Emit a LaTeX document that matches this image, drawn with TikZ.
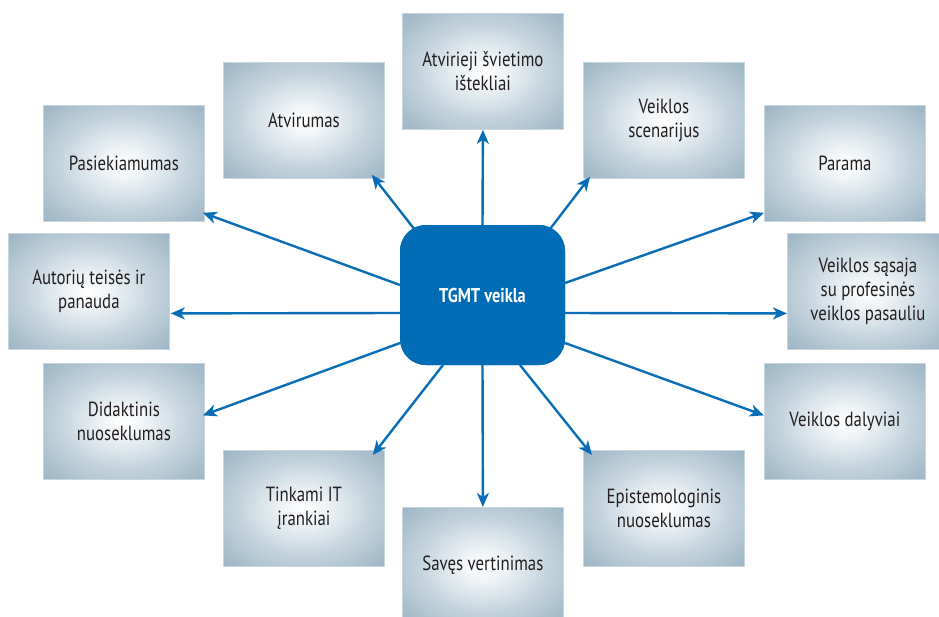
\documentclass[tikz,border=0pt]{standalone}
\usepackage{fontspec}
\setmainfont{PT Sans}[FakeStretch=0.82]
\usetikzlibrary{arrows.meta,calc}

\definecolor{hubblue}{HTML}{006CB6}
\definecolor{linkblue}{HTML}{0A6EB6}
\definecolor{boxline}{HTML}{C8D6DE}
\definecolor{boxtext}{HTML}{231F20}
\definecolor{glowB}{HTML}{EEF3F6}
\definecolor{glowC}{HTML}{C4D4DE}
\definecolor{glowD}{HTML}{9CB5C5}
\definecolor{glowE}{HTML}{89A5B8}

% soft white centre fading to steel blue at the edges
\pgfdeclareradialshading{glow}{\pgfpoint{0bp}{0bp}}{%
  color(0bp)=(white); color(7bp)=(glowB); color(20bp)=(glowC);
  color(35bp)=(glowD); color(50bp)=(glowE)}

\tikzset{
  topic/.style={rectangle, draw=boxline, line width=0.8pt, shading=glow,
    minimum width=161pt, minimum height=116pt, anchor=north west,
    align=center, text=boxtext, inner sep=2pt,
    font=\fontsize{20.5}{24}\selectfont},
  hub/.style={rectangle, rounded corners=26pt, fill=hubblue, draw=none,
    minimum width=165pt, minimum height=140pt, text=white,
    font=\fontsize{20}{24}\selectfont\bfseries},
  link/.style={draw=linkblue, line width=2.4pt,
    -{Stealth[length=14pt, width=12pt, inset=4pt]}},
}

\begin{document}
\begin{tikzpicture}[x=1pt, y=-1pt]
\clip (0,0) rectangle (939,616);
\fill[white] (0,0) rectangle (939,616);

% surrounding topics
\node[topic] (atv) at (402,13)  {Atvirieji švietimo\\ištekliai};
\node[topic] (avr) at (223,62)  {Atvirumas};
\node[topic] (scn) at (583,62)  {Veiklos\\scenarijus};
\node[topic] (pas) at (43,105)  {Pasiekiamumas};
\node[topic] (par) at (764,105) {Parama};
\node[topic] (aut) at (8,233)   {Autorių teisės ir\\panauda};
\node[topic] (ssj) at (787,233) {Veiklos sąsaja\\su profesinės\\veiklos pasauliu};
\node[topic] (did) at (43,363)  {Didaktinis\\nuoseklumas};
\node[topic] (dal) at (764,363) {Veiklos dalyviai};
\node[topic] (tin) at (223,450) {Tinkami IT\\įrankiai};
\node[topic] (epi) at (583,450) {Epistemologinis\\nuoseklumas};
\node[topic] (sav) at (402,507) {Savęs vertinimas};

% central activity
\node[hub] (c) at (482.5,295) {TGMT veikla};

% spokes from the hub
\draw[link] ($(c.center)+(0,-70)$)     -- (atv.south);
\draw[link] ($(c.center)+(-67.5,-65)$) -- ($(avr.south east)+(-13,-4)$);
\draw[link] ($(c.center)+(67.5,-66)$)  -- ($(scn.south west)+(7,-2)$);
\draw[link] ($(c.center)+(-82.5,-10)$) -- ($(pas.south east)+(-2,-9)$);
\draw[link] ($(c.center)+(82.5,-12)$)  -- ($(par.south west)+(0,-9)$);
\draw[link] ($(c.center)+(-82.5,18)$)  -- ($(aut.east)+(1,22)$);
\draw[link] ($(c.center)+(82.5,18)$)   -- ($(ssj.west)+(0,22)$);
\draw[link] ($(c.center)+(-82.5,48)$)  -- ($(did.east)+(-2,-6)$);
\draw[link] ($(c.center)+(82.5,48)$)   -- ($(dal.west)+(0,-6)$);
\draw[link] ($(c.center)+(-39.5,70)$)  -- ($(tin.north east)+(-12,5)$);
\draw[link] ($(c.center)+(37.5,70)$)   -- ($(epi.north west)+(9,5)$);
\draw[link] ($(c.center)+(0,70)$)      -- (sav.north);

% keep the hub above the spoke ends
\node[hub] at (c.center) {TGMT veikla};
\end{tikzpicture}
\end{document}
